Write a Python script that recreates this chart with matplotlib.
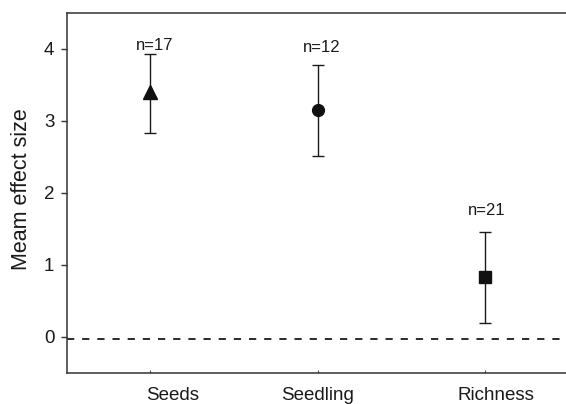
import matplotlib
matplotlib.use("Agg")
import matplotlib.pyplot as plt
from matplotlib.transforms import ScaledTranslation

plt.rcParams['font.family'] = ['Liberation Sans', 'DejaVu Sans']

# values
categories = ["Seeds", "Seedling", "Richness"]
means = [3.40, 3.15, 0.83]
upper = [3.93, 3.78, 1.46]
lower = [2.83, 2.51, 0.19]
n_labels = ["n=17", "n=12", "n=21"]
markers = ["^", "o", "s"]

fig = plt.figure(figsize=(5.66, 4.04), dpi=100)
ax = fig.add_axes([0.118, 0.077, 0.887, 0.891])

xs = range(1, len(categories) + 1)
for x, m, lo, hi, mk in zip(xs, means, lower, upper, markers):
    ax.errorbar(x, m, yerr=[[m - lo], [hi - m]], fmt=mk, color="#111111",
                ecolor="#1a1a1a", elinewidth=1.0, capsize=4, capthick=1.0,
                markersize=10 if mk == "^" else 8.5)

# n labels just above the caps (offsets in points)
text_offsets = [(3, 0.8), (3, 7), (1, 10)]
for x, hi, lab, off in zip(xs, upper, n_labels, text_offsets):
    ax.annotate(lab, (x, hi), xytext=off, textcoords="offset points",
                ha="center", va="bottom", fontsize=12, color="#1a1a1a")

ax.axhline(-0.03, color="#1a1a1a", lw=1.3, dashes=(4.0, 4.4))

ax.set_xlim(0.5, 3.5)
ax.set_ylim(-0.5, 4.5)
ax.set_yticks([0, 1, 2, 3, 4])
ax.set_xticks(list(xs))
ax.set_xticklabels(categories, fontsize=13.5, color="#1a1a1a")
ax.tick_params(axis="y", direction="out", length=4, width=1, pad=5,
               labelsize=13.5, colors="#333333", labelcolor="#1a1a1a")
ax.tick_params(axis="x", direction="in", length=2.5, width=0.8, pad=10,
               colors="#555555", labelcolor="#1a1a1a")

# the category labels sit a little off their ticks in the reference
label_shift = [16, 0, 8]
for lab, dx in zip(ax.get_xticklabels(), label_shift):
    lab.set_transform(lab.get_transform() + ScaledTranslation(dx / 72, 0, fig.dpi_scale_trans))

ax.set_ylabel("Meam effect size", fontsize=15.5, color="#1a1a1a")
ax.yaxis.set_label_coords(-0.07, 0.51)

for side in ["left", "bottom", "top"]:
    ax.spines[side].set_color("#333333")
    ax.spines[side].set_linewidth(1.1)
ax.spines["right"].set_visible(False)

fig.savefig("out.png", dpi=100)
